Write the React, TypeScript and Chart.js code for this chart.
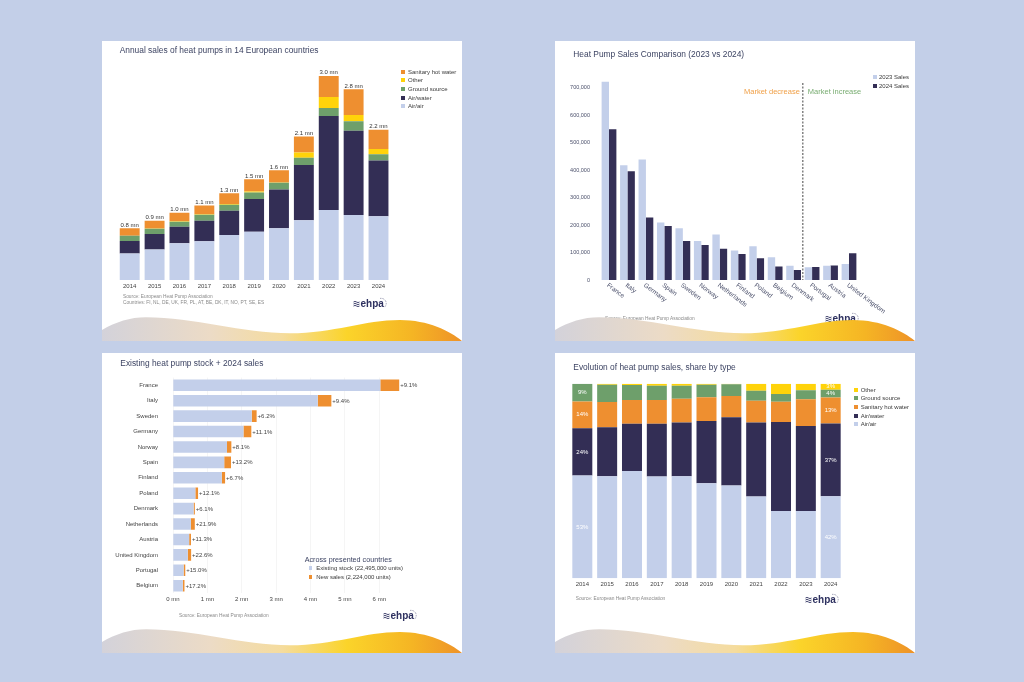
import React, { useEffect, useRef } from 'react';
import { Chart, registerables } from 'chart.js';
Chart.register(...registerables);

const FONT = '"Liberation Sans", Arial, Helvetica, sans-serif';
Chart.defaults.font.family = FONT;

const C_AA = '#c3cfea';
const C_AW = '#332e55';
const C_GS = '#6e9f6b';
const C_OT = '#ffd30a';
const C_SHW = '#ee8f30';
const BG = '#c3cfe8';
const TITLE_C = '#3d4463';

// ---------- Chart 1: annual sales (mn units) ----------
const years = ['2014', '2015', '2016', '2017', '2018', '2019', '2020', '2021', '2022', '2023', '2024'];
const airAir1 = [0.39, 0.45, 0.54, 0.57, 0.66, 0.71, 0.76, 0.88, 1.03, 0.956, 0.937];
const airWater1 = [0.185, 0.225, 0.244, 0.30, 0.36, 0.48, 0.57, 0.81, 1.38, 1.24, 0.82];
const ground1 = [0.074, 0.078, 0.074, 0.088, 0.085, 0.098, 0.10, 0.107, 0.12, 0.138, 0.094];
const other1 = [0.003, 0.006, 0.006, 0.01, 0.012, 0.012, 0.005, 0.078, 0.16, 0.093, 0.074];
const shw1 = [0.109, 0.113, 0.124, 0.127, 0.16, 0.18, 0.18, 0.235, 0.31, 0.378, 0.284];
const totalLabels1 = ['0.8 mn', '0.9 mn', '1.0 mn', '1.1 mn', '1.3 mn', '1.5 mn', '1.6 mn', '2.1 mn', '3.0 mn', '2.8 mn', '2.2 mn'];

// ---------- Chart 2: 2023 vs 2024 ----------
const countries2 = ['France', 'Italy', 'Germany', 'Spain', 'Sweden', 'Norway', 'Netherlands', 'Finland', 'Poland', 'Belgium', 'Denmark', 'Portugal', 'Austria', 'United Kingdom'];
const sales2023 = [722000, 418000, 439000, 209000, 188000, 142000, 166000, 107000, 123000, 83000, 52000, 46000, 52000, 58000];
const sales2024 = [549000, 396000, 228000, 197000, 142000, 127000, 114000, 95000, 79000, 49000, 36000, 47000, 53000, 97000];
const yTicks2 = [0, 100000, 200000, 300000, 400000, 500000, 600000, 700000];

// ---------- Chart 3: stock + 2024 sales (mn units) ----------
const countries3 = ['France', 'Italy', 'Sweden', 'Germany', 'Norway', 'Spain', 'Finland', 'Poland', 'Denmark', 'Netherlands', 'Austria', 'United Kingdom', 'Portugal', 'Belgium'];
const stock3 = [6.03, 4.21, 2.29, 2.05, 1.57, 1.49, 1.42, 0.65, 0.60, 0.52, 0.47, 0.43, 0.31, 0.285];
const newSales3 = [0.549, 0.396, 0.142, 0.228, 0.127, 0.197, 0.095, 0.079, 0.036, 0.114, 0.053, 0.097, 0.047, 0.049];
const growth3 = ['+9.1%', '+9.4%', '+6.2%', '+11.1%', '+8.1%', '+13.2%', '+6.7%', '+12.1%', '+6.1%', '+21.9%', '+11.3%', '+22.6%', '+15.0%', '+17.2%'];
const xTicks3 = [0, 1, 2, 3, 4, 5, 6];

// ---------- Chart 4: share by type (%) ----------
const shareAA = [52.8, 52.4, 55.1, 52.3, 52.4, 48.9, 47.7, 42.0, 34.6, 34.6, 42.1];
const shareAW = [24.3, 25.2, 24.3, 27.1, 27.6, 31.9, 35.0, 38.0, 45.7, 43.7, 37.4];
const shareSHW = [13.8, 13.0, 12.2, 12.2, 12.3, 12.2, 11.0, 11.3, 10.4, 13.7, 13.4];
const shareGS = [9.1, 8.9, 7.7, 7.4, 6.7, 6.5, 6.0, 5.1, 4.0, 4.6, 4.0];
const shareOT = [0, 0.5, 0.7, 1.0, 1.0, 0.5, 0.3, 3.6, 5.3, 3.4, 3.1];
const labelledYears4 = [0, 10];

// ---------- helpers ----------
function ChartBox({ make }: { make: () => any }) {
  const ref = useRef<HTMLCanvasElement>(null);
  useEffect(() => {
    const c = new Chart(ref.current as HTMLCanvasElement, make());
    return () => c.destroy();
  }, []);
  return (
    <canvas
      ref={ref}
      width={360}
      height={300}
      style={{ position: 'absolute', left: 0, top: 0, width: 360, height: 300 }}
    />
  );
}

function Txt({ x, y, size, color, children, weight, align }: any) {
  return (
    <div
      style={{
        position: 'absolute',
        left: x,
        top: y - size * 0.6,
        fontSize: size,
        lineHeight: `${size * 1.2}px`,
        color,
        whiteSpace: 'nowrap',
        fontFamily: FONT,
        fontWeight: weight || 400,
        textAlign: align,
      }}
    >
      {children}
    </div>
  );
}

function Legend({ x, y, gap, textGap, items, size = 6, box = 4.2 }: any) {
  return (
    <>
      {items.map((it: any, i: number) => (
        <div
          key={i}
          style={{
            position: 'absolute',
            left: x,
            top: y + i * gap - 4,
            height: 8,
            display: 'flex',
            alignItems: 'center',
            fontSize: size,
            fontFamily: FONT,
            color: '#3a3a3a',
            whiteSpace: 'nowrap',
          }}
        >
          <span style={{ width: box, height: box, background: it.color, display: 'inline-block', marginRight: textGap - box }} />
          <span>{it.label}</span>
        </div>
      ))}
    </>
  );
}

function Logo({ x, y }: { x: number; y: number }) {
  return (
    <svg style={{ position: 'absolute', left: x, top: y - 7 }} width={36} height={14} viewBox="0 0 36 14">
      <path d="M0.5 6 q1.5 -1.2 3 0 t3 0" stroke="#2e3160" strokeWidth={0.9} fill="none" />
      <path d="M0.5 8 q1.5 -1.2 3 0 t3 0" stroke="#2e3160" strokeWidth={0.9} fill="none" />
      <path d="M0.5 10 q1.5 -1.2 3 0 t3 0" stroke="#2e3160" strokeWidth={0.9} fill="none" />
      <text x={7.5} y={10.5} fontSize={10} fontFamily={FONT} fill="#2e3160" fontWeight={700}>ehpa</text>
      <path d="M27 2.5 A5 5 0 0 1 31 11.5" stroke="#2e3160" strokeWidth={0.6} strokeDasharray="0.8 0.9" fill="none" />
    </svg>
  );
}

function Wave({ id }: { id: string }) {
  return (
    <svg style={{ position: 'absolute', left: 0, top: 270 }} width={360} height={30} viewBox="0 270 360 30">
      <defs>
        <linearGradient id={id} x1="0" x2="1" y1="0" y2="0">
          <stop offset="0%" stopColor="#d3d2da" />
          <stop offset="30%" stopColor="#ecdbc6" />
          <stop offset="50%" stopColor="#f5dc9e" />
          <stop offset="68%" stopColor="#fbd42a" />
          <stop offset="86%" stopColor="#f5b524" />
          <stop offset="100%" stopColor="#ee9228" />
        </linearGradient>
      </defs>
      <path
        d="M0,289 C14,281 28,276.3 44,276.3 C92,276.3 140,292.3 188,292.3 C232,292.3 262,279 298,279 C326,279 348,290 360,300 L0,300 Z"
        fill={`url(#${id})`}
      />
    </svg>
  );
}

function Panel({ left, top, children, id }: any) {
  return (
    <div style={{ position: 'absolute', left, top, width: 360, height: 300, background: '#fff', overflow: 'hidden' }}>
      {children}
      <Wave id={id} />
    </div>
  );
}

// ---------- chart configs ----------
function makeChart1() {
  const totalsPlugin = {
    id: 'totals1',
    afterDatasetsDraw(chart: any) {
      const { ctx } = chart;
      const xs = chart.scales.x;
      const ys = chart.scales.y;
      ctx.save();
      ctx.font = `6px ${FONT}`;
      ctx.fillStyle = '#333';
      ctx.textAlign = 'center';
      ctx.textBaseline = 'middle';
      years.forEach((_, i) => {
        const total = airAir1[i] + airWater1[i] + ground1[i] + other1[i] + shw1[i];
        ctx.fillText(totalLabels1[i], xs.getPixelForValue(i), ys.getPixelForValue(total) - 3.2);
      });
      ctx.restore();
    },
  };
  return {
    type: 'bar',
    data: {
      labels: years,
      datasets: [
        { label: 'Air/air', data: airAir1, backgroundColor: C_AA },
        { label: 'Air/water', data: airWater1, backgroundColor: C_AW },
        { label: 'Ground source', data: ground1, backgroundColor: C_GS },
        { label: 'Other', data: other1, backgroundColor: C_OT },
        { label: 'Sanitary hot water', data: shw1, backgroundColor: C_SHW },
      ],
    },
    options: {
      responsive: false,
      animation: false,
      devicePixelRatio: 1,
      layout: { padding: { left: 15.26, right: 71.06, top: 14.6, bottom: 49 } },
      datasets: { bar: { barPercentage: 0.8, categoryPercentage: 1 } },
      plugins: { legend: { display: false }, tooltip: { enabled: false } },
      scales: {
        x: {
          stacked: true,
          grid: { display: false, drawTicks: false },
          border: { display: false },
          ticks: { font: { size: 6 }, color: '#444', padding: 2.5 },
          afterFit: (s: any) => { s.height = 12; },
        },
        y: { stacked: true, display: false, min: 0, max: 3.3 },
      },
    },
    plugins: [totalsPlugin],
  };
}

function makeChart2() {
  const annot = {
    id: 'annot2',
    afterDraw(chart: any) {
      const { ctx, chartArea } = chart;
      const xs = chart.scales.x;
      ctx.save();
      ctx.font = `6.5px ${FONT}`;
      ctx.fillStyle = '#4a4f6a';
      countries2.forEach((c, i) => {
        const px = xs.getPixelForValue(i);
        ctx.save();
        ctx.translate(px - 1.5, chartArea.bottom + 4.5);
        ctx.rotate((37 * Math.PI) / 180);
        ctx.textAlign = 'left';
        ctx.textBaseline = 'middle';
        ctx.fillText(c, 0, 0);
        ctx.restore();
      });
      const divX = (xs.getPixelForValue(10) + xs.getPixelForValue(11)) / 2;
      ctx.strokeStyle = '#444';
      ctx.lineWidth = 1;
      ctx.setLineDash([2, 1.5]);
      ctx.beginPath();
      ctx.moveTo(divX, 42);
      ctx.lineTo(divX, chartArea.bottom);
      ctx.stroke();
      ctx.setLineDash([]);
      ctx.font = `7.5px ${FONT}`;
      ctx.textBaseline = 'middle';
      ctx.textAlign = 'right';
      ctx.fillStyle = '#f0a048';
      ctx.fillText('Market decrease', divX - 3, 50.7);
      ctx.textAlign = 'left';
      ctx.fillStyle = '#79ad72';
      ctx.fillText('Market increase', divX + 5, 50.7);
      ctx.restore();
    },
  };
  return {
    type: 'bar',
    data: {
      labels: countries2,
      datasets: [
        { label: '2023 Sales', data: sales2023, backgroundColor: C_AA },
        { label: '2024 Sales', data: sales2024, backgroundColor: C_AW },
      ],
    },
    options: {
      responsive: false,
      animation: false,
      devicePixelRatio: 1,
      layout: { padding: { left: 0, right: 56.77, top: 33, bottom: 61 } },
      datasets: { bar: { barPercentage: 1, categoryPercentage: 0.8 } },
      plugins: { legend: { display: false }, tooltip: { enabled: false } },
      scales: {
        x: { display: false },
        y: {
          min: 0,
          max: 750000,
          grid: { display: false, drawTicks: false },
          border: { display: false },
          afterBuildTicks: (s: any) => { s.ticks = yTicks2.map((v) => ({ value: v })); },
          ticks: {
            font: { size: 5.5 },
            color: '#4a4f6a',
            padding: 9.8,
            callback: (v: any) => Number(v).toLocaleString('en-US'),
          },
          afterFit: (s: any) => { s.width = 44.77; },
        },
      },
    },
    plugins: [annot],
  };
}

function makeChart3() {
  const lbl = {
    id: 'growth3',
    afterDatasetsDraw(chart: any) {
      const { ctx } = chart;
      const xs = chart.scales.x;
      const ys = chart.scales.y;
      ctx.save();
      ctx.font = `6px ${FONT}`;
      ctx.fillStyle = '#444';
      ctx.textAlign = 'left';
      ctx.textBaseline = 'middle';
      countries3.forEach((_, i) => {
        ctx.fillText(growth3[i], xs.getPixelForValue(stock3[i] + newSales3[i]) + 1, ys.getPixelForValue(i) + 0.3);
      });
      ctx.restore();
    },
  };
  return {
    type: 'bar',
    data: {
      labels: countries3,
      datasets: [
        { label: 'Existing stock', data: stock3, backgroundColor: C_AA },
        { label: 'New sales', data: newSales3, backgroundColor: C_SHW },
      ],
    },
    options: {
      indexAxis: 'y',
      responsive: false,
      animation: false,
      devicePixelRatio: 1,
      layout: { padding: { left: 0, right: 55.2, top: 24.6, bottom: 47.6 } },
      datasets: { bar: { barPercentage: 0.75, categoryPercentage: 1 } },
      plugins: { legend: { display: false }, tooltip: { enabled: false } },
      scales: {
        x: {
          stacked: true,
          min: 0,
          max: 6.8,
          grid: { color: '#eeeeee', lineWidth: 0.6, drawTicks: false },
          border: { display: false },
          afterBuildTicks: (s: any) => { s.ticks = xTicks3.map((v) => ({ value: v })); },
          ticks: { font: { size: 6 }, color: '#444', padding: 2, callback: (v: any) => `${v} mn` },
          afterFit: (s: any) => { s.height = 12; },
        },
        y: {
          stacked: true,
          grid: { display: false, drawTicks: false },
          border: { display: false },
          ticks: { font: { size: 6 }, color: '#444', padding: 15 },
          afterFit: (s: any) => { s.width = 71; },
        },
      },
    },
    plugins: [lbl],
  };
}

function makeChart4() {
  const lbl = {
    id: 'share4',
    afterDatasetsDraw(chart: any) {
      const { ctx } = chart;
      ctx.save();
      ctx.font = `6px ${FONT}`;
      ctx.fillStyle = '#ffffff';
      ctx.textAlign = 'center';
      ctx.textBaseline = 'middle';
      chart.data.datasets.forEach((ds: any, j: number) => {
        const meta = chart.getDatasetMeta(j);
        labelledYears4.forEach((i) => {
          const v = ds.data[i];
          if (v < 1) return;
          const bar = meta.data[i];
          ctx.fillText(`${Math.round(v)}%`, bar.x, (bar.y + bar.base) / 2);
        });
      });
      ctx.restore();
    },
  };
  return {
    type: 'bar',
    data: {
      labels: years,
      datasets: [
        { label: 'Air/air', data: shareAA, backgroundColor: C_AA },
        { label: 'Air/water', data: shareAW, backgroundColor: C_AW },
        { label: 'Sanitary hot water', data: shareSHW, backgroundColor: C_SHW },
        { label: 'Ground source', data: shareGS, backgroundColor: C_GS },
        { label: 'Other', data: shareOT, backgroundColor: C_OT },
      ],
    },
    options: {
      responsive: false,
      animation: false,
      devicePixelRatio: 1,
      layout: { padding: { left: 14.9, right: 71.9, top: 30.7, bottom: 62.7 } },
      datasets: { bar: { barPercentage: 0.805, categoryPercentage: 1 } },
      plugins: { legend: { display: false }, tooltip: { enabled: false } },
      scales: {
        x: {
          stacked: true,
          grid: { display: false, drawTicks: false },
          border: { display: false },
          ticks: { font: { size: 6 }, color: '#444', padding: 2.5 },
          afterFit: (s: any) => { s.height = 12; },
        },
        y: { stacked: true, display: false, min: 0, max: 100 },
      },
    },
    plugins: [lbl],
  };
}

const SRC = 'Source: European Heat Pump Association';

export default function App() {
  return (
    <div style={{ position: 'fixed', left: 0, top: 0, width: 1024, height: 682, background: BG, fontFamily: FONT, overflow: 'hidden' }}>
      <Panel left={102} top={41} id="w1">
        <ChartBox make={makeChart1} />
        <Txt x={17.7} y={9} size={8.4} color={TITLE_C}>Annual sales of heat pumps in 14 European countries</Txt>
        <Legend
          x={298.7}
          y={30.7}
          gap={8.67}
          textGap={7.3}
          items={[
            { label: 'Sanitary hot water', color: C_SHW },
            { label: 'Other', color: C_OT },
            { label: 'Ground source', color: C_GS },
            { label: 'Air/water', color: C_AW },
            { label: 'Air/air', color: C_AA },
          ]}
        />
        <Txt x={21} y={255.7} size={4.8} color="#8a8a8a">{SRC}</Txt>
        <Txt x={21} y={262.3} size={4.8} color="#8a8a8a">Countries: FI, NL, DE, UK, FR, PL, AT, BE, DK, IT, NO, PT, SE, ES</Txt>
        <Logo x={251} y={261.7} />
      </Panel>

      <Panel left={555} top={41} id="w2">
        <ChartBox make={makeChart2} />
        <Txt x={18.3} y={13} size={8.4} color={TITLE_C}>Heat Pump Sales Comparison (2023 vs 2024)</Txt>
        <Legend
          x={317.7}
          y={36.3}
          gap={8.4}
          textGap={6.3}
          items={[
            { label: '2023 Sales', color: C_AA },
            { label: '2024 Sales', color: C_AW },
          ]}
        />
        <Txt x={50} y={278.3} size={4.8} color="#8a8a8a">{SRC}</Txt>
        <Logo x={270} y={277} />
      </Panel>

      <Panel left={102} top={353} id="w3">
        <ChartBox make={makeChart3} />
        <Txt x={18.3} y={10} size={8.4} color={TITLE_C}>Existing heat pump stock + 2024 sales</Txt>
        <Txt x={202.7} y={207} size={7.2} color={TITLE_C}>Across presented countries</Txt>
        <Legend
          x={206.7}
          y={215.3}
          gap={8.4}
          textGap={7.6}
          box={3.8}
          items={[
            { label: 'Existing stock (22,495,000 units)', color: C_AA },
            { label: 'New sales (2,224,000 units)', color: C_SHW },
          ]}
        />
        <Txt x={77} y={262.7} size={4.8} color="#8a8a8a">{SRC}</Txt>
        <Logo x={281} y={262} />
      </Panel>

      <Panel left={555} top={353} id="w4">
        <ChartBox make={makeChart4} />
        <Txt x={18.3} y={14} size={8.4} color={TITLE_C}>Evolution of heat pump sales, share by type</Txt>
        <Legend
          x={299}
          y={36.7}
          gap={8.67}
          textGap={6.7}
          items={[
            { label: 'Other', color: C_OT },
            { label: 'Ground source', color: C_GS },
            { label: 'Sanitary hot water', color: C_SHW },
            { label: 'Air/water', color: C_AW },
            { label: 'Air/air', color: C_AA },
          ]}
        />
        <Txt x={20.7} y={246} size={4.8} color="#8a8a8a">{SRC}</Txt>
        <Logo x={250} y={246} />
      </Panel>
    </div>
  );
}
